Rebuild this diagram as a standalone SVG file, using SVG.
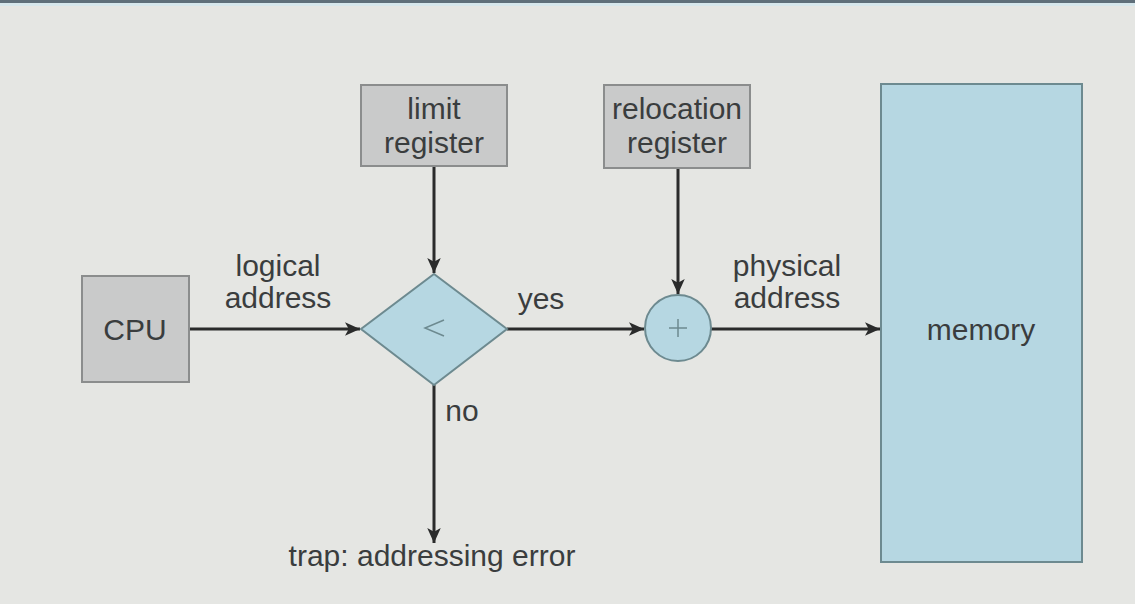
<svg xmlns="http://www.w3.org/2000/svg" width="1135" height="604" viewBox="0 0 1135 604">
<defs>
<marker id="arr" viewBox="0 0 10 10" refX="10" refY="5" markerWidth="15" markerHeight="15" markerUnits="userSpaceOnUse" orient="auto">
<path d="M0,0.5 L10,5 L0,9.5 L2.5,5 z" fill="#2a2b2b"/>
</marker>
<style>
.t{font-family:"Liberation Sans",Arial,sans-serif;font-size:30px;fill:#3a3d3e;text-anchor:middle}
.gray{fill:#c9caca;stroke:#8b8d8d;stroke-width:2}
.blue{fill:#b6d7e2;stroke:#6d8a90;stroke-width:2}
.c{stroke:#2a2b2b;stroke-width:3;fill:none;marker-end:url(#arr)}
</style>
</defs>
<rect width="1135" height="604" fill="#e5e6e3"/>
<rect width="1135" height="3" fill="#5f6f7a"/>
<rect y="3" width="1135" height="3" fill="#d6e7ec"/>
<g id="connectors">
<line class="c" x1="189" y1="329" x2="360" y2="329"/>
<line class="c" x1="434" y1="166" x2="434" y2="273"/>
<line class="c" x1="507" y1="329" x2="644" y2="329"/>
<line class="c" x1="678" y1="168" x2="678" y2="294"/>
<line class="c" x1="711" y1="329" x2="880" y2="329"/>
<line class="c" x1="434" y1="385" x2="434" y2="543"/>
<text class="t" x="278" y="276">logical</text>
<text class="t" x="278" y="308">address</text>
<text class="t" x="541" y="309">yes</text>
<text class="t" x="462" y="421">no</text>
<text class="t" x="787" y="276">physical</text>
<text class="t" x="787" y="308">address</text>
<text class="t" x="432" y="566">trap: addressing error</text>
</g>
<g id="cpu">
<rect class="gray" x="82" y="276" width="107" height="106"/>
<text class="t" x="135" y="340">CPU</text>
</g>
<g id="limit">
<rect class="gray" x="361" y="85" width="146" height="81"/>
<text class="t" x="434" y="119">limit</text>
<text class="t" x="434" y="153">register</text>
</g>
<g id="relocation">
<rect class="gray" x="604" y="85" width="146" height="83"/>
<text class="t" x="677" y="119">relocation</text>
<text class="t" x="677" y="153">register</text>
</g>
<g id="compare">
<polygon class="blue" points="434,274 507,329 434,385 361,329"/>
<path d="M444,320 L425,328 L444,336" fill="none" stroke="#6d8a90" stroke-width="1.5"/>
</g>
<g id="adder">
<circle class="blue" cx="678" cy="328" r="33"/>
<path d="M678,319 V337 M669,328 H687" stroke="#6d8a90" stroke-width="1.5"/>
</g>
<g id="memory">
<rect class="blue" x="881" y="84" width="201" height="478"/>
<text class="t" x="981" y="340">memory</text>
</g>
</svg>
